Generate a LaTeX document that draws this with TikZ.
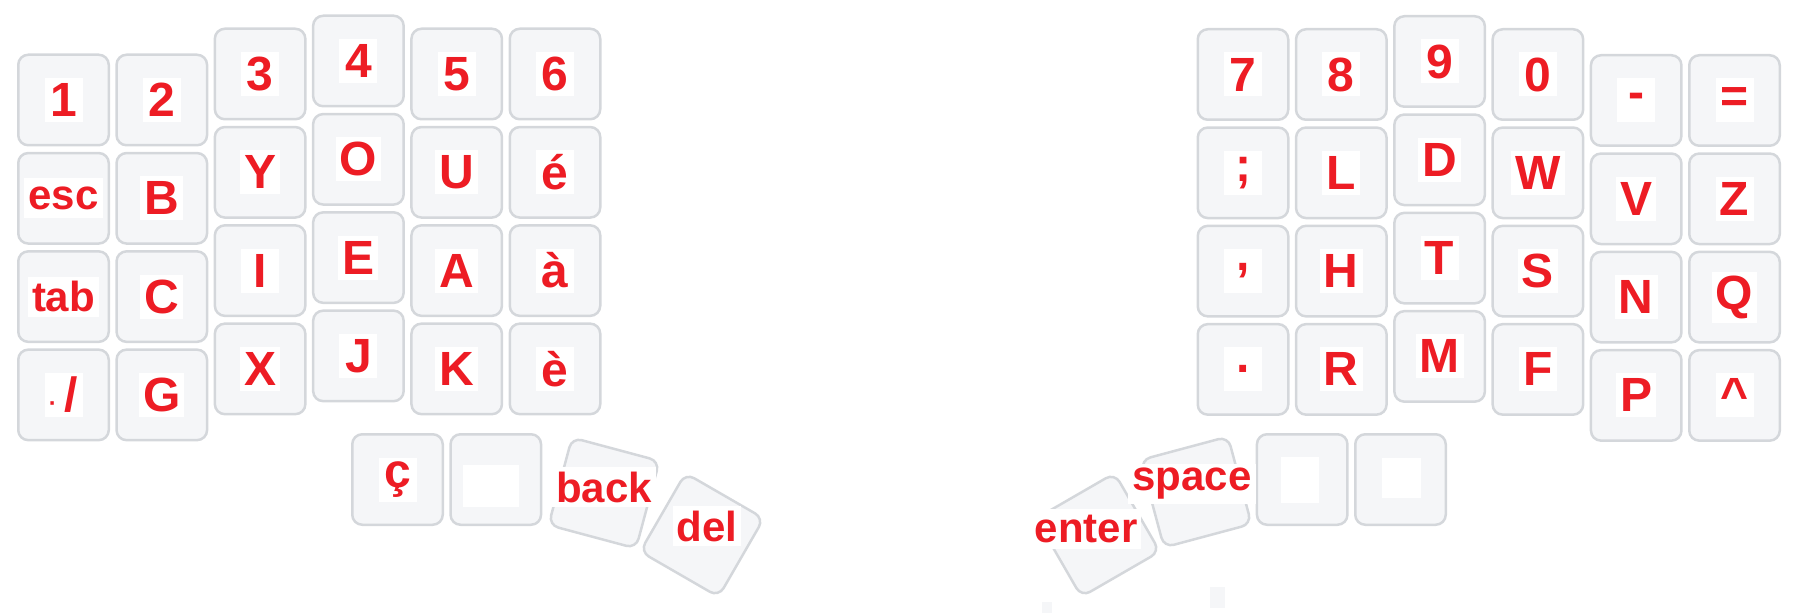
\documentclass[tikz,border=0pt]{standalone}
\usepackage{fontspec}
\setmainfont{Liberation Sans}
\usetikzlibrary{positioning}
\definecolor{keyred}{HTML}{ED1C24}
\definecolor{keyline}{HTML}{D4D7DB}
\definecolor{keyfill}{HTML}{F5F6F8}
\tikzset{
  key/.style={draw=keyline,fill=keyfill,line width=2.5pt,rounded corners=10pt,
              minimum size=90.5pt,inner sep=0pt},
  lbl/.style={fill=white,text=keyred,inner sep=4pt,minimum width=38pt,minimum height=44pt,
              font=\fontsize{48}{48}\selectfont\bfseries},
  wlbl/.style={lbl,minimum width=0pt,minimum height=40pt,
              font=\fontsize{42}{42}\selectfont\bfseries}
}
\begin{document}
\begin{tikzpicture}[x=1pt,y=-1pt,node distance=98.3pt]

  \useasboundingbox (0,0) rectangle (1800,615);

  	\node[key] (L11) at (63.5,100) {};
  	\node[key] (L12) [right of=L11] {};
	\node[key] (L13) [right of=L12, yshift=26pt] {};
	\node[key] (L14) [right of=L13, yshift=13pt] {};
	\node[key] (L15) [right of=L14, yshift=-13pt] {};
	\node[key] (L16) [right of=L15] {};

  	\node[key] (R11) at (1243,74.5) {};
  	\node[key] (R12) [right of=R11] {};
	\node[key] (R13) [right of=R12, yshift=13pt] {};
	\node[key] (R14) [right of=R13, yshift=-13pt] {};
	\node[key] (R15) [right of=R14, yshift=-26pt] {};
	\node[key] (R16) [right of=R15] {};

	\foreach \c in {1,...,6}
	  \foreach \r [count=\p] in {2,3,4} {
	    \node[key] (L\r\c) [below of=L\p\c] {};
	    \node[key] (R\r\c) [below of=R\p\c] {};
	  }

	\node[key] (Lt1) at (397.5,479.5) {};
	\node[key] (Lt2) [right of=Lt1] {};
	\node[key, rotate=-15] (back) at (604,493) {};
	\node[key, rotate=-30] (del) at (702,535) {};

	\node[key] (Rt2) at (1400.5,479.5) {};
	\node[key] (Rt1) [left of=Rt2] {};
	\node[key, rotate=15] (space) at (1196,492) {};
	\node[key, rotate=30] (enter) at (1098,535) {};

	\foreach \n/\t in {L11/1, L12/2, L13/3, L14/4, L15/5, L16/6,
	                   L22/B, L23/Y, L24/O, L25/U, L26/é,
	                   L32/C, L33/I, L34/E, L35/A, L36/à,
	                   L41/{{\fontsize{24}{24}\selectfont·}\,/}, L42/G, L43/X, L44/J, L45/K, L46/è,
	                   R11/7, R12/8, R13/9, R14/0, R15/-, R16/=,
	                   R21/;, R22/L, R23/D, R24/W, R25/V, R26/Z,
	                   R31/{,}, R32/H, R33/T, R34/S, R35/N, R36/Q,
	                   R41/., R42/R, R43/M, R44/F, R45/P, R46/\textasciicircum,
	                   Lt1/ç}
	  \node[lbl] at (\n) {\t};

	\node[wlbl] at (L21) {esc};
	\node[wlbl] at (L31) {tab};
	\node[wlbl] [yshift=6pt] at (back) {back};
	\node[wlbl] [xshift=5pt, yshift=9pt] at (del) {del};
	\node[wlbl] [xshift=-4pt, yshift=8pt] at (space) {space};
	\node[wlbl] [xshift=-12pt, yshift=6pt] at (enter) {enter};

	\node[lbl, minimum width=56pt, minimum height=42pt] [xshift=-5pt, yshift=-6.5pt] at (Lt2) {};
	\node[lbl, minimum width=38pt, minimum height=46pt] [xshift=-2pt] at (Rt1) {};
	\node[lbl, minimum width=39pt, minimum height=40pt] [xshift=1pt, yshift=1.5pt] at (Rt2) {};

	\fill[keyfill] (1042,602) rectangle (1052,613);
	\fill[keyfill] (1210,587) rectangle (1225,608);

\end{tikzpicture}
\end{document}
